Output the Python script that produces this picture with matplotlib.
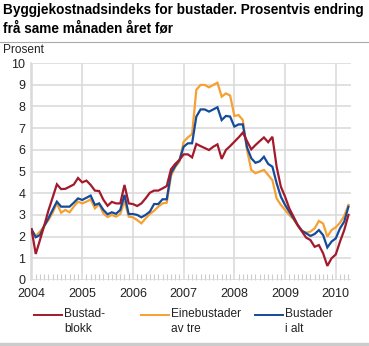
import matplotlib
matplotlib.use('Agg')
import matplotlib.pyplot as plt
from matplotlib.lines import Line2D
import numpy as np

plt.rcParams['font.family'] = ['Liberation Sans', 'DejaVu Sans']

# Maanedlege tal, januar 2004 - april 2010
bustadblokk = [2.34, 1.2, 1.84, 2.5, 3.2, 3.8, 4.41, 4.19, 4.2, 4.3, 4.4, 4.7,
               4.5, 4.58, 4.38, 4.12, 4.1, 3.7, 3.42, 3.6, 3.53, 3.53, 4.38, 3.53,
               3.5, 3.41, 3.53, 3.76, 4.02, 4.12, 4.12, 4.22, 4.33, 5.1, 5.35, 5.53,
               5.79, 5.79, 5.65, 6.27, 6.17, 6.08, 5.99, 6.14, 6.25, 5.58, 5.99, 6.17,
               6.37, 6.57, 6.79, 6.4, 6.02, 6.22, 6.4, 6.57, 6.35, 6.6, 5.22, 4.3,
               3.84, 3.3, 2.92, 2.53, 2.23, 1.95, 1.84, 1.53, 1.61, 1.23, 0.65, 1.0,
               1.18, 1.77, 2.3, 3.0]
einebustader = [2.3, 2.03, 2.23, 2.49, 2.76, 3.1, 3.53, 3.1, 3.23, 3.12, 3.38, 3.61,
                3.53, 3.61, 3.72, 3.3, 3.5, 3.07, 2.9, 3.0, 2.92, 3.04, 3.65, 2.92,
                2.89, 2.76, 2.61, 2.84, 3.04, 3.19, 3.38, 3.53, 3.56, 4.79, 5.2, 5.45,
                6.37, 6.57, 6.73, 8.76, 8.99, 8.99, 8.88, 8.99, 9.09, 8.45, 8.6, 8.5,
                7.56, 7.6, 7.37, 5.99, 5.07, 4.92, 5.0, 5.07, 4.84, 4.6, 3.76, 3.46,
                3.23, 3.0, 2.8, 2.49, 2.26, 2.18, 2.23, 2.38, 2.72, 2.6, 2.0, 2.3,
                2.43, 2.64, 2.95, 3.46]
bustader_i_alt = [2.34, 1.97, 2.07, 2.49, 2.84, 3.23, 3.61, 3.38, 3.38, 3.38, 3.56, 3.76,
                  3.69, 3.79, 3.89, 3.46, 3.53, 3.23, 3.03, 3.12, 3.05, 3.23, 3.92, 3.04,
                  3.04, 3.0, 2.89, 3.0, 3.15, 3.5, 3.5, 3.72, 3.72, 4.92, 5.25, 5.53,
                  6.14, 6.3, 6.3, 7.53, 7.86, 7.86, 7.76, 7.86, 7.96, 7.37, 7.56, 7.53,
                  7.07, 7.17, 7.17, 6.11, 5.61, 5.4, 5.47, 5.68, 5.35, 5.22, 4.46, 3.84,
                  3.46, 3.15, 2.84, 2.53, 2.27, 2.15, 2.03, 2.12, 2.3, 2.07, 1.5, 1.77,
                  1.92, 2.38, 2.69, 3.38]
years = [2004, 2005, 2006, 2007, 2008, 2009, 2010]
labels = ['Bustad-\nblokk', 'Einebustader\nav tre', 'Bustader\ni alt']
colors = ['#a21a2b', '#f6a031', '#144b9b']

x = 2004 + np.arange(len(bustadblokk)) / 12.0

fig = plt.figure(figsize=(3.69, 3.46), dpi=100)
ax = fig.add_axes([31 / 369, 1 - 280 / 346, 320 / 369, 217 / 346])

grid = '#d9d9d9'
for s, c, z in zip([bustadblokk, einebustader, bustader_i_alt], colors, [4, 2, 3]):
    ax.plot(x, s, color=c, lw=1.6, zorder=z, solid_joinstyle='miter')

ax.set_xlim(2003.99, 2010.30)
ax.set_ylim(0, 10)
ax.set_yticks(range(0, 11))
ax.set_xticks(years)
ax.set_xticks(2004 + np.arange(1, 76) / 12.0, minor=True)
ax.grid(True, color=grid, lw=1.1, zorder=0)
ax.grid(False, which='minor')
for sp in ['top', 'right', 'bottom']:
    ax.spines[sp].set_visible(False)
ax.spines['left'].set_color(grid)
ax.spines['left'].set_linewidth(1.1)
ax.tick_params(axis='both', which='major', length=0, labelsize=9, colors='#222222', pad=4)
ax.tick_params(axis='x', which='major', pad=6)
ax.tick_params(axis='x', which='minor', direction='in', length=4, width=0.8,
               color='#cccccc', bottom=True)

# Tittel og akseforklaring
fig.text(3 / 369, 1 - 3 / 346, 'Byggjekostnadsindeks for bustader. Prosentvis endring\nfrå same månaden året før',
         fontsize=9.8, fontweight='bold', va='top', ha='left', linespacing=1.4)
fig.add_artist(Line2D([0, 1], [1 - 42 / 346] * 2, color='#aaaaaa', lw=0.8))
fig.add_artist(Line2D([0, 1], [1 - 344 / 346] * 2, color='#cccccc', lw=2.5))
fig.text(3 / 369, 1 - 50 / 346, 'Prosent', fontsize=8.6, va='center', ha='left', color='#222222')

# Forklaring
for xs, c, lab in zip([34, 141, 255], colors, labels):
    fig.add_artist(Line2D([xs / 369, (xs + 28) / 369], [1 - 315 / 346] * 2, color=c, lw=1.4))
    fig.text((xs + 30) / 369, 1 - 308 / 346, lab, fontsize=8.6, va='top', ha='left',
             color='#222222', linespacing=1.3)

plt.savefig('out.png', dpi=100)
